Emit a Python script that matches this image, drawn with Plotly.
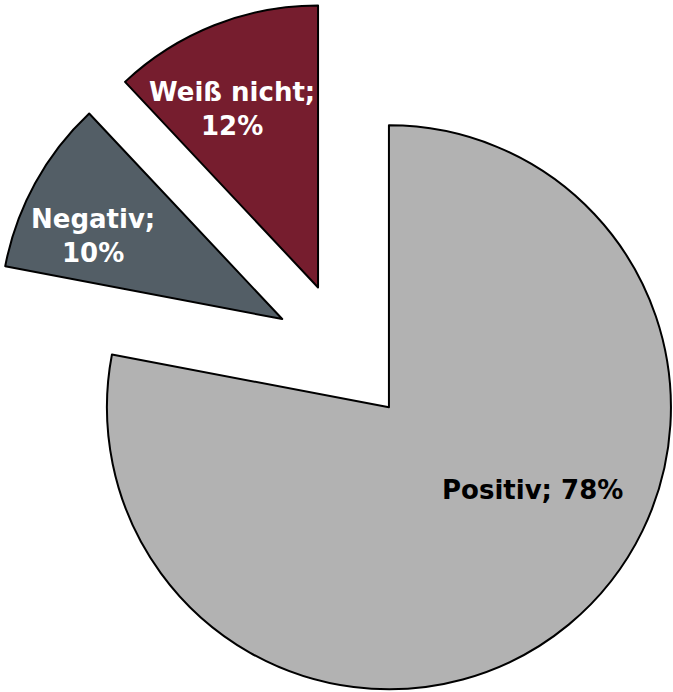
import math
import plotly.graph_objects as go

# Survey result: share of answers per category
labels = ["Positiv", "Negativ", "Weiß nicht"]
values = [78, 10, 12]
colors = ["#B2B2B2", "#535E66", "#761D2E"]
font_colors = ["#000000", "#FFFFFF", "#FFFFFF"]
line_breaks = [" ", "<br>", "<br>"]

# Layout / geometry settings (pixels)
W, H = 673, 692
R = 282              # pie radius
PULL = 0.25          # explode distance as a fraction of the radius
BASE_CX, BASE_CY = 344, 353
# label placement per slice: (clockwise angle from 12 o'clock, fraction of radius)
label_pos = [(119.9, 0.588), (293.7, 0.733), (334.2, 0.702)]

total = sum(values)
fig = go.Figure()
annotations = []
cum = 0.0
for i, (lab, val) in enumerate(zip(labels, values)):
    mid = 2 * math.pi * (cum + val / 2) / total
    cum += val
    # exploded slice apex in screen pixels
    cx = BASE_CX + PULL * R * math.sin(mid)
    cy = BASE_CY - PULL * R * math.cos(mid)

    slice_colors = [colors[j] if j == i else "rgba(0,0,0,0)" for j in range(len(values))]
    line_colors = ["#000000" if j == i else "rgba(0,0,0,0)" for j in range(len(values))]
    fig.add_trace(go.Pie(
        labels=labels,
        values=values,
        sort=False,
        direction="clockwise",
        rotation=0,
        marker=dict(colors=slice_colors, line=dict(color=line_colors, width=2)),
        textinfo="none",
        hoverinfo="skip",
        domain=dict(
            x=[(cx - R) / W, (cx + R) / W],
            y=[1 - (cy + R) / H, 1 - (cy - R) / H],
        ),
    ))

    ang, frac = label_pos[i]
    a = math.radians(ang)
    lx = cx + frac * R * math.sin(a)
    ly = cy - frac * R * math.cos(a)
    annotations.append(dict(
        x=lx / W, y=1 - ly / H, xref="paper", yref="paper",
        xanchor="center", yanchor="middle", showarrow=False,
        text=f"<b>{lab};{line_breaks[i]}{val}%</b>",
        font=dict(family="DejaVu Sans", size=26, color=font_colors[i]),
        align="center",
    ))

fig.update_layout(
    width=W, height=H,
    margin=dict(l=0, r=0, t=0, b=0),
    paper_bgcolor="white",
    plot_bgcolor="white",
    showlegend=False,
    annotations=annotations,
)

fig.write_html("out.html")
